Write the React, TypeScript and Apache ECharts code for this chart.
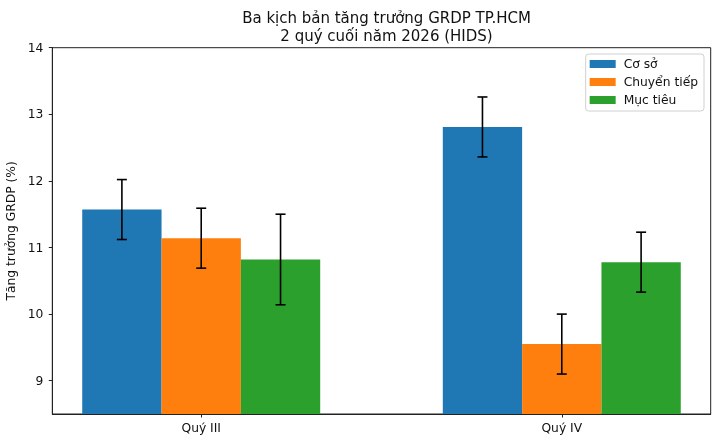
import { useEffect, useRef } from "react"
import * as echarts from "echarts"

// dữ liệu
const quarters = ["Quý III", "Quý IV"]
const scenarios = ["Cơ sở", "Chuyển tiếp", "Mục tiêu"]
const baseValues = [11.57, 12.81]
const baseErrors = [0.45, 0.45]
const transitionValues = [11.14, 9.55]
const transitionErrors = [0.45, 0.45]
const targetValues = [10.82, 10.78]
const targetErrors = [0.68, 0.45]
const yTicks = [9, 10, 11, 12, 13, 14]

const COLORS = ["#1f77b4", "#ff7f0e", "#2ca02c"]
const FONT = "DejaVu Sans"
const Y_MIN = 8.5
const Y_MAX = 14
const BAR_W = 0.22

export default function App() {
    const chartRef = useRef<HTMLDivElement>(null)

    useEffect(() => {
        if (!chartRef.current) return
        const chart = echarts.init(chartRef.current, null, { renderer: "svg" })

        const groups = [
            { values: baseValues, errors: baseErrors },
            { values: transitionValues, errors: transitionErrors },
            { values: targetValues, errors: targetErrors },
        ]

        const series = groups.map((g, si) => {
            const offset = (si - 1) * BAR_W
            const color = COLORS[si]
            return {
                type: "custom",
                name: scenarios[si],
                itemStyle: { color },
                data: g.values.map((v, i) => [i, v, g.errors[i]]),
                renderItem: (_params: any, api: any) => {
                    const x = api.value(0) + offset
                    const v = api.value(1)
                    const e = api.value(2)
                    const p1 = api.coord([x - BAR_W / 2, v])
                    const p2 = api.coord([x + BAR_W / 2, Y_MIN])
                    const top = api.coord([x, v + e])
                    const bot = api.coord([x, v - e])
                    const cap = 5
                    const lineStyle = { stroke: "#000", lineWidth: 1.6 }
                    return {
                        type: "group",
                        children: [
                            {
                                type: "rect",
                                shape: { x: p1[0], y: p1[1], width: p2[0] - p1[0], height: p2[1] - p1[1] },
                                style: { fill: color },
                            },
                            {
                                type: "line",
                                shape: { x1: top[0], y1: top[1], x2: bot[0], y2: bot[1] },
                                style: lineStyle,
                            },
                            {
                                type: "line",
                                shape: { x1: top[0] - cap, y1: top[1], x2: top[0] + cap, y2: top[1] },
                                style: lineStyle,
                            },
                            {
                                type: "line",
                                shape: { x1: bot[0] - cap, y1: bot[1], x2: bot[0] + cap, y2: bot[1] },
                                style: lineStyle,
                            },
                        ],
                    }
                },
            }
        })

        const option: any = {
            animation: false,
            color: COLORS,
            textStyle: { fontFamily: FONT },
            title: {
                text: "Ba kịch bản tăng trưởng GRDP TP.HCM\n2 quý cuối năm 2026 (HIDS)",
                left: 381.5,
                textAlign: "center",
                top: 4,
                textStyle: {
                    fontFamily: FONT,
                    fontSize: 15,
                    fontWeight: "normal",
                    color: "#111",
                    lineHeight: 18,
                },
            },
            legend: {
                orient: "vertical",
                right: 16,
                top: 54,
                icon: "rect",
                itemWidth: 26,
                itemHeight: 8,
                itemGap: 6,
                padding: [4, 6, 5, 4],
                borderColor: "#d0d0d0",
                borderWidth: 1,
                borderRadius: 3,
                backgroundColor: "rgba(255,255,255,0.8)",
                textStyle: { fontFamily: FONT, fontSize: 12.3, color: "#111", padding: [0, 0, 0, 3] },
                data: scenarios,
            },
            grid: {
                left: 52.3,
                right: 9.3,
                top: 47.7,
                bottom: 32,
                show: true,
                borderColor: "#222",
                borderWidth: 1,
                outerBoundsMode: "none",
            },
            xAxis: {
                type: "value",
                min: -0.413,
                max: 1.413,
                z: 5,
                axisLine: { show: true, onZero: false, lineStyle: { color: "#222", width: 1 } },
                axisTick: { show: true, length: 3.5, customValues: [0, 1], lineStyle: { color: "#222" } },
                axisLabel: {
                    customValues: [0, 1],
                    formatter: (v: number) => quarters[Math.round(v)],
                    fontFamily: FONT,
                    fontSize: 12.3,
                    color: "#111",
                    margin: 8,
                },
                splitLine: { show: false },
            },
            yAxis: {
                type: "value",
                min: Y_MIN,
                max: Y_MAX,
                z: 5,
                name: "Tăng trưởng GRDP (%)",
                nameLocation: "middle",
                nameGap: 31,
                nameTextStyle: { fontFamily: FONT, fontSize: 12.3, color: "#111" },
                axisLine: { show: true, onZero: false, lineStyle: { color: "#222", width: 1 } },
                axisTick: { show: true, length: 3.5, customValues: yTicks, lineStyle: { color: "#222" } },
                axisLabel: {
                    customValues: yTicks,
                    fontFamily: FONT,
                    fontSize: 12.3,
                    color: "#111",
                    margin: 9,
                },
                splitLine: { show: false },
            },
            series,
        }

        chart.setOption(option)

        return () => {
            chart.dispose()
        }
    }, [])

    return <div ref={chartRef} style={{ position: "fixed", left: 0, top: 0, width: 720, height: 446 }} />
}
